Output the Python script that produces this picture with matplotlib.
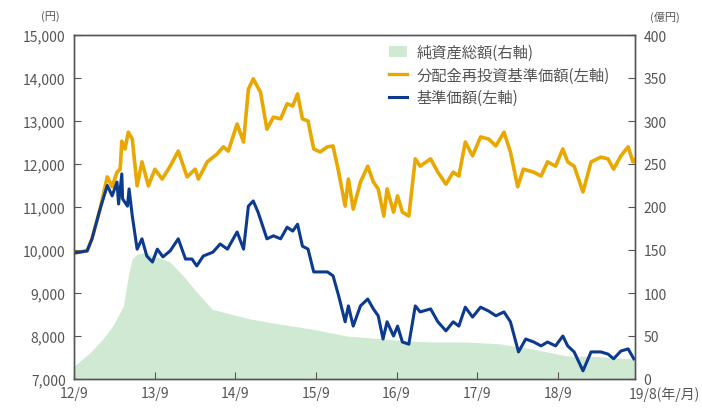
import matplotlib
matplotlib.use("Agg")
import matplotlib.pyplot as plt
from matplotlib.patches import Patch
from matplotlib.lines import Line2D

plt.rcParams['font.family'] = ['Noto Sans CJK JP', 'DejaVu Sans']

# time in fractional years
reinv_t = [2012.667, 2012.83, 2012.89, 2012.99, 2013.08, 2013.14, 2013.20, 2013.24, 2013.26, 2013.30,
           2013.34, 2013.39, 2013.45, 2013.51, 2013.59, 2013.67, 2013.76, 2013.86, 2013.96, 2014.07,
           2014.17, 2014.21, 2014.32, 2014.44, 2014.52, 2014.58, 2014.69, 2014.77, 2014.83, 2014.89,
           2014.98, 2015.06, 2015.14, 2015.23, 2015.31, 2015.38, 2015.44, 2015.50, 2015.57, 2015.64,
           2015.72, 2015.81, 2015.88, 2015.95, 2016.03, 2016.07, 2016.13, 2016.22, 2016.31, 2016.38,
           2016.44, 2016.51, 2016.55, 2016.63, 2016.68, 2016.74, 2016.82, 2016.90, 2016.96, 2017.09,
           2017.18, 2017.28, 2017.37, 2017.44, 2017.52, 2017.61, 2017.71, 2017.81, 2017.90, 2018.00,
           2018.08, 2018.17, 2018.24, 2018.37, 2018.46, 2018.54, 2018.64, 2018.73, 2018.79, 2018.87,
           2018.98, 2019.08, 2019.20, 2019.29, 2019.36, 2019.45, 2019.54, 2019.60, 2019.625]
reinv_v = [9930, 9980, 10260, 10950, 11700, 11470, 11810, 11880, 12530, 12350,
           12740, 12580, 11490, 12050, 11490, 11880, 11650, 11950, 12300, 11700,
           11880, 11650, 12050, 12230, 12400, 12300, 12930, 12510, 13740, 13980,
           13670, 12810, 13090, 13050, 13400, 13350, 13630, 13050, 13000, 12350,
           12280, 12400, 12420, 11810, 11020, 11650, 10950, 11580, 11950, 11580,
           11420, 10790, 11420, 10880, 11260, 10880, 10790, 12120, 11950, 12120,
           11810, 11530, 11810, 11720, 12510, 12190, 12630, 12580, 12420, 12740,
           12280, 11470, 11880, 11810, 11720, 12050, 11950, 12350, 12050, 11950,
           11350, 12050, 12160, 12120, 11880, 12190, 12400, 12050, 12100]

nav_t = [2012.667, 2012.83, 2012.89, 2012.99, 2013.08, 2013.14, 2013.20, 2013.22, 2013.26, 2013.27,
         2013.33, 2013.35, 2013.39, 2013.45, 2013.51, 2013.57, 2013.64, 2013.70, 2013.77, 2013.86,
         2013.96, 2014.05, 2014.13, 2014.19, 2014.27, 2014.39, 2014.48, 2014.57, 2014.69, 2014.77,
         2014.83, 2014.89, 2014.95, 2015.06, 2015.14, 2015.23, 2015.31, 2015.38, 2015.44, 2015.50,
         2015.57, 2015.64, 2015.72, 2015.81, 2015.88, 2015.95, 2016.03, 2016.07, 2016.13, 2016.22,
         2016.31, 2016.38, 2016.44, 2016.50, 2016.55, 2016.63, 2016.68, 2016.74, 2016.82, 2016.90,
         2016.96, 2017.09, 2017.18, 2017.28, 2017.37, 2017.44, 2017.52, 2017.61, 2017.71, 2017.81,
         2017.90, 2018.00, 2018.08, 2018.18, 2018.27, 2018.37, 2018.46, 2018.54, 2018.64, 2018.73,
         2018.79, 2018.87, 2018.98, 2019.08, 2019.20, 2019.29, 2019.36, 2019.45, 2019.54, 2019.61]
nav_v = [9930, 9980, 10260, 10950, 11500, 11260, 11580, 11070, 11770, 11190,
         11020, 11420, 10790, 10020, 10260, 9860, 9720, 10020, 9840, 9980,
         10260, 9790, 9790, 9630, 9860, 9950, 10140, 10020, 10420, 10020,
         11020, 11140, 10880, 10260, 10330, 10260, 10530, 10440, 10600, 10090,
         10020, 9490, 9490, 9490, 9400, 8930, 8330, 8700, 8230, 8700,
         8860, 8630, 8470, 7930, 8330, 8000, 8230, 7860, 7810, 8700,
         8560, 8630, 8330, 8120, 8330, 8230, 8670, 8440, 8670, 8580,
         8470, 8560, 8330, 7630, 7930, 7860, 7770, 7860, 7770, 8000,
         7770, 7630, 7190, 7630, 7630, 7580, 7470, 7650, 7700, 7470]

aum_t = [2012.667, 2012.87, 2013.03, 2013.15, 2013.28, 2013.34, 2013.39, 2013.45, 2013.55, 2013.86,
         2014.02, 2014.19, 2014.38, 2014.59, 2014.84, 2015.21, 2015.62, 2016.05, 2016.46, 2016.83,
         2017.11, 2017.53, 2017.94, 2018.35, 2018.77, 2019.18, 2019.625]
aum_v = [15, 31, 47, 62, 85, 120, 140, 145, 147, 136,
         120, 101, 81, 76, 70, 64, 58, 50, 47, 44,
         43, 43, 41, 35, 27, 26, 23]

x_ticks = [2012.667, 2013.667, 2014.667, 2015.667, 2016.667, 2017.667, 2018.667]
x_labels = ['12/9', '13/9', '14/9', '15/9', '16/9', '17/9', '18/9']
x_end_label = '19/8(年/月)'
left_ticks = [7000, 8000, 9000, 10000, 11000, 12000, 13000, 14000, 15000]
right_ticks = [0, 50, 100, 150, 200, 250, 300, 350, 400]

ORANGE = '#E9A800'
BLUE = '#0B3A8E'
GREEN = '#CFE9D3'
GRAY = '#555555'

fig = plt.figure(figsize=(7.02, 4.10), dpi=100)
ax = fig.add_axes([74/702, 30/410, (635-74)/702, (380-36)/410])
ax2 = ax.twinx()

ax2.fill_between(aum_t, aum_v, 0, color=GREEN, lw=0)
ax2.set_ylim(0, 400)
ax2.set_yticks(right_ticks)
ax2.set_yticklabels([str(v) for v in right_ticks])

ax.set_zorder(ax2.get_zorder() + 1)
ax.patch.set_visible(False)
ax.plot(reinv_t, reinv_v, color=ORANGE, lw=2.6, solid_joinstyle='round')
ax.plot(nav_t, nav_v, color=BLUE, lw=2.2, solid_joinstyle='round')
ax.set_ylim(7000, 15000)
ax.set_xlim(2012.667, 2019.625)
ax.set_yticks(left_ticks)
ax.set_yticklabels([f'{v:,}' for v in left_ticks])
ax.set_xticks(x_ticks)
ax.set_xticklabels(x_labels)

for a in (ax, ax2):
    for s in a.spines.values():
        s.set_color(GRAY)
        s.set_linewidth(1.0)
    a.tick_params(direction='in', length=5, color=GRAY, labelcolor=GRAY, labelsize=10)
ax.tick_params(axis='y', pad=6)
ax2.tick_params(axis='y', pad=6)
ax.tick_params(axis='x', pad=5)

fig.text(700/702, 1 - 395/410, x_end_label, ha='right', va='center', fontsize=10, color=GRAY)
fig.text(50/702, 1 - 17/410, '(円)', ha='center', va='center', fontsize=8, color=GRAY)
fig.text(665/702, 1 - 17/410, '(億円)', ha='center', va='center', fontsize=8, color=GRAY)

handles = [Patch(facecolor=GREEN, edgecolor='none'),
           Line2D([], [], color=ORANGE, lw=2.4),
           Line2D([], [], color=BLUE, lw=2.2)]
labels = ['純資産総額(右軸)', '分配金再投資基準価額(左軸)', '基準価額(左軸)']
leg = ax.legend(handles, labels, loc='upper left', bbox_to_anchor=(0.545, 1.0), frameon=False,
                fontsize=11, handlelength=1.2, handletextpad=0.6, labelspacing=0.35,
                borderaxespad=0.2)
for t in leg.get_texts():
    t.set_color(GRAY)

fig.savefig('out.png', dpi=100)
